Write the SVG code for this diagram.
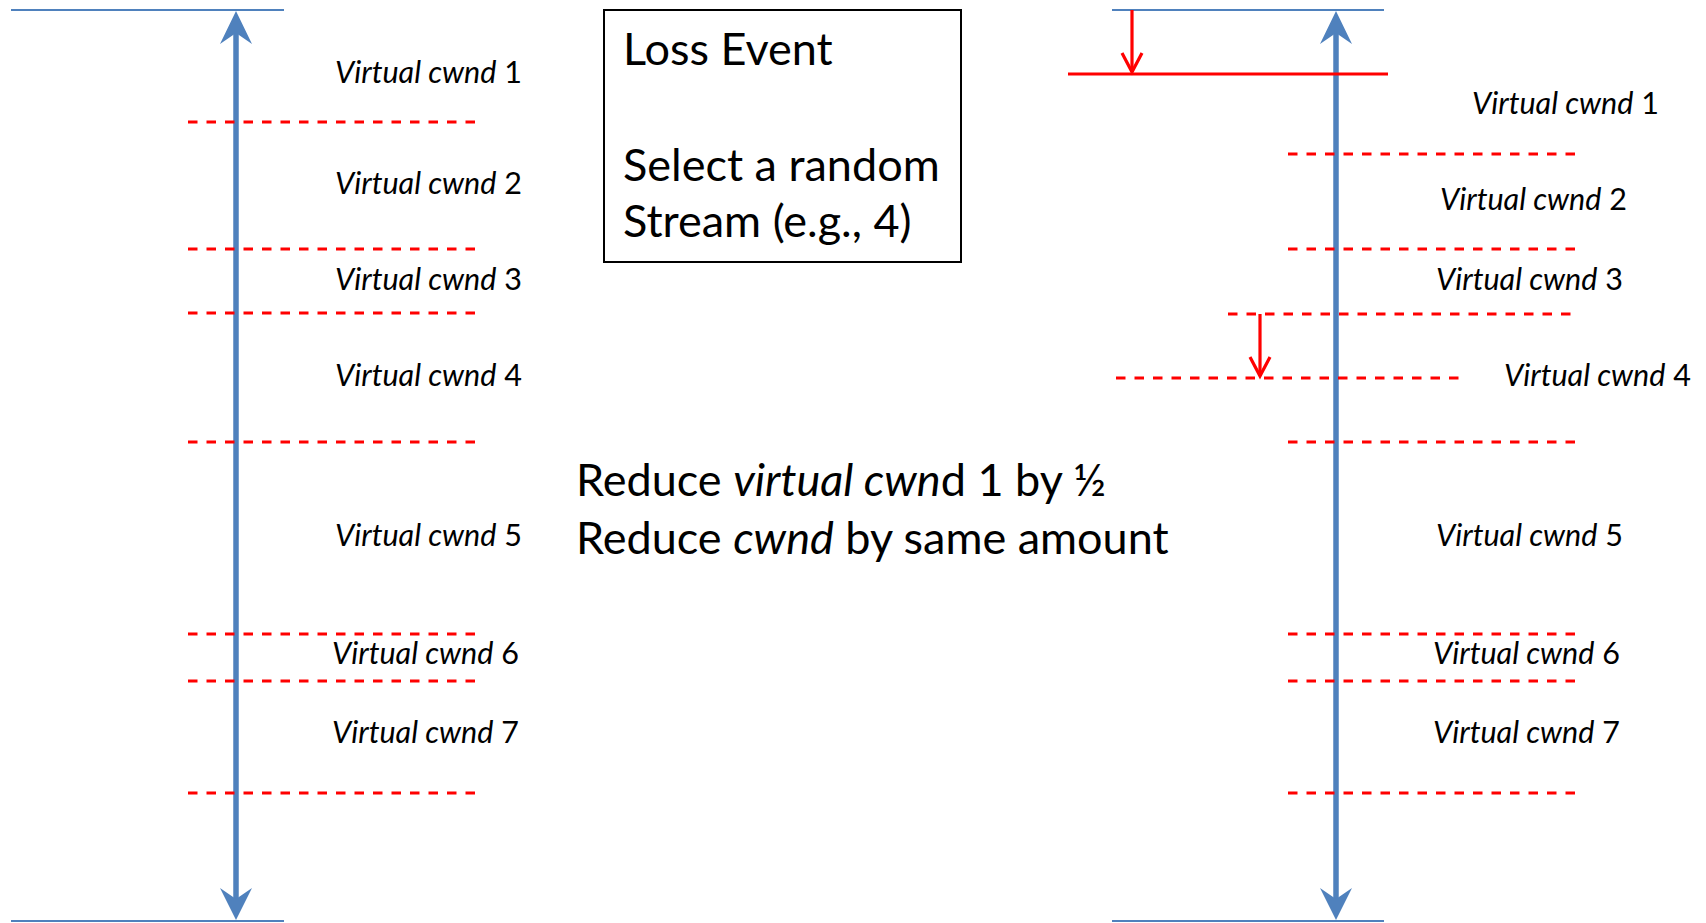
<svg xmlns="http://www.w3.org/2000/svg" width="1706" height="923" viewBox="0 0 1706 923">
<style>
.bl{stroke:#4F81BD;stroke-width:2;fill:none}
.ax{stroke:#4F81BD;stroke-width:5.5;fill:none}
.ah{fill:#4F81BD;stroke:none}
.dash{stroke:#FF0000;stroke-width:2.8;stroke-dasharray:9.5 9;fill:none}
.red{stroke:#FF0000;stroke-width:3.2;fill:none}
.lbl{font-family:Lato,"Liberation Sans",sans-serif;font-size:30.5px;fill:#000}
.big{font-family:Lato,"Liberation Sans",sans-serif;font-size:45px;fill:#000}
.it{font-style:italic}
</style>
<rect width="1706" height="923" fill="#fff"/>
<g id="connectors">
  <line class="bl" x1="11" y1="10" x2="284" y2="10"/>
  <line class="bl" x1="11" y1="921" x2="284" y2="921"/>
  <line class="ax" x1="236" y1="30" x2="236" y2="902"/>
  <polygon class="ah" points="236,11 252,44 236,33 220,44"/>
  <polygon class="ah" points="236,920 252,888 236,899 220,888"/>
  <line class="dash" x1="188" y1="122" x2="477" y2="122"/>
  <line class="dash" x1="188" y1="249" x2="477" y2="249"/>
  <line class="dash" x1="188" y1="313" x2="477" y2="313"/>
  <line class="dash" x1="188" y1="442" x2="477" y2="442"/>
  <line class="dash" x1="188" y1="634" x2="477" y2="634"/>
  <line class="dash" x1="188" y1="681" x2="477" y2="681"/>
  <line class="dash" x1="188" y1="793" x2="477" y2="793"/>
  <line class="bl" x1="1112" y1="10" x2="1384" y2="10"/>
  <line class="bl" x1="1112" y1="921" x2="1384" y2="921"/>
  <line class="ax" x1="1336" y1="30" x2="1336" y2="902"/>
  <polygon class="ah" points="1336,11 1352,44 1336,33 1320,44"/>
  <polygon class="ah" points="1336,920 1352,888 1336,899 1320,888"/>
  <line class="red" x1="1068" y1="74" x2="1388" y2="74"/>
  <line class="red" x1="1132" y1="10" x2="1132" y2="72"/>
  <polyline class="red" points="1122,53 1132,72 1142,53"/>
  <line class="dash" x1="1288" y1="154" x2="1577" y2="154"/>
  <line class="dash" x1="1288" y1="249" x2="1577" y2="249"/>
  <line class="dash" x1="1228" y1="314" x2="1575" y2="314"/>
  <line class="dash" x1="1116" y1="378" x2="1463" y2="378"/>
  <line class="red" x1="1260" y1="314" x2="1260" y2="376"/>
  <polyline class="red" points="1250,357 1260,376 1270,357"/>
  <line class="dash" x1="1288" y1="442" x2="1577" y2="442"/>
  <line class="dash" x1="1288" y1="634" x2="1577" y2="634"/>
  <line class="dash" x1="1288" y1="681" x2="1577" y2="681"/>
  <line class="dash" x1="1288" y1="793" x2="1577" y2="793"/>
</g>
<g id="left-labels">
  <text class="lbl" x="335" y="83"><tspan class="it">Virtual cwnd</tspan> 1</text>
  <text class="lbl" x="335" y="194"><tspan class="it">Virtual cwnd</tspan> 2</text>
  <text class="lbl" x="335" y="290"><tspan class="it">Virtual cwnd</tspan> 3</text>
  <text class="lbl" x="335" y="386"><tspan class="it">Virtual cwnd</tspan> 4</text>
  <text class="lbl" x="335" y="546"><tspan class="it">Virtual cwnd</tspan> 5</text>
  <text class="lbl" x="332" y="664"><tspan class="it">Virtual cwnd</tspan> 6</text>
  <text class="lbl" x="332" y="743"><tspan class="it">Virtual cwnd</tspan> 7</text>
</g>
<g id="right-labels">
  <text class="lbl" x="1472" y="114"><tspan class="it">Virtual cwnd</tspan> 1</text>
  <text class="lbl" x="1440" y="210"><tspan class="it">Virtual cwnd</tspan> 2</text>
  <text class="lbl" x="1436" y="290"><tspan class="it">Virtual cwnd</tspan> 3</text>
  <text class="lbl" x="1504" y="386"><tspan class="it">Virtual cwnd</tspan> 4</text>
  <text class="lbl" x="1436" y="546"><tspan class="it">Virtual cwnd</tspan> 5</text>
  <text class="lbl" x="1433" y="664"><tspan class="it">Virtual cwnd</tspan> 6</text>
  <text class="lbl" x="1433" y="743"><tspan class="it">Virtual cwnd</tspan> 7</text>
</g>
<g id="loss-event">
  <rect x="604" y="10" width="357" height="252" fill="#fff" stroke="#000" stroke-width="2"/>
  <text class="big" x="623" y="65">Loss Event</text>
  <text class="big" x="623" y="181">Select a random</text>
  <text class="big" x="623" y="237">Stream (e.g., 4)</text>
</g>
<g id="reduce-note">
  <text class="big" x="576" y="496">Reduce <tspan class="it">virtual cwn</tspan>d 1 by ½</text>
  <text class="big" x="576" y="554">Reduce <tspan class="it">cwnd</tspan> by same amount</text>
</g>
</svg>
